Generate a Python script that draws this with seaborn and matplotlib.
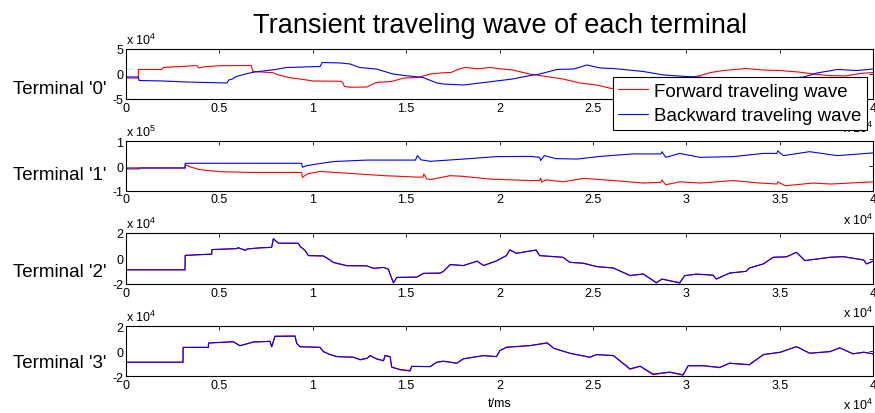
import matplotlib
matplotlib.use("Agg")

import matplotlib.pyplot as plt
import seaborn as sns
from matplotlib.ticker import FuncFormatter

# ==========================================================
# DATA  (time in ms, wave amplitude in raw units)
# ==========================================================

# ---- Terminal '0'
t0_fwd = [0, 660, 660, 1900, 2000, 3600, 3800, 3900, 4200, 5000, 6700, 6800,
          7000, 7900, 8000, 8700, 9500, 10000, 11500, 11600, 11700, 12000,
          12900, 13100, 13400, 14200, 14900, 15600, 16000, 16300, 17000,
          17400, 17900, 18200, 18800, 19500, 20000, 20700, 21600, 22500,
          23400, 24300, 25200, 26000, 27000, 28000, 29000, 30000, 30750,
          31300, 32000, 33200, 34100, 35000, 36000, 36800, 37600, 38500,
          39300, 40000]
v0_fwd = [-8000, -8000, 9000, 9000, 13000, 16500, 16500, 12000, 14500, 16500,
          17000, 5000, 4500, 2500, 0, -7000, -11000, -14000, -14500, -17000,
          -25000, -26500, -26000, -22000, -17000, -15000, -8000, -7000, -3000,
          0, 2500, 3000, 11000, 13000, 10500, 13000, 10500, 8000, 0, -5000,
          -10000, -18000, -22000, -29000, -24000, -20000, -15000, -9000,
          -3000, 3000, 7000, 11000, 8000, 7000, 4000, 0, -3000, -4000, 1000,
          3000]

t0_bwd = [0, 660, 700, 2000, 3250, 5400, 5500, 5700, 5900, 6400, 6800, 8000,
          8600, 10400, 10500, 11500, 12000, 12500, 13400, 14300, 14900, 15900,
          16650, 17000, 18060, 18960, 20700, 21640, 22150, 23070, 23970,
          24680, 25390, 26100, 27700, 28800, 30000, 31500, 33000, 35000,
          36300, 37000, 38100, 39150, 40000]
v0_bwd = [-6000, -6000, -13000, -14000, -16000, -18000, -12000, -10000, -5000,
          0, 3500, 9000, 13000, 15000, 23000, 22000, 20000, 13000, 10000, 0,
          -3000, -7000, -18000, -20000, -22000, -18000, -10000, -3000, 0,
          9000, 10000, 18000, 12000, 11000, 5000, -2000, -5000, -8000, -9000,
          -10000, -6000, 2000, 9000, 7000, 10000]

# ---- Terminal '1'
t1_fwd = [0, 700, 750, 3160, 3170, 3500, 3960, 5040, 6640, 9400, 9450, 9700,
          10400, 12000, 13800, 15570, 15900, 15950, 16100, 16290, 17360,
          18060, 19500, 21640, 22150, 22200, 22260, 22500, 23400, 24500,
          26100, 27700, 28650, 28700, 28900, 29650, 30750, 32500, 33950,
          34850, 34900, 35300, 36800, 37750, 40000]
v1_fwd = [-12000, -12000, -8000, -8000, 5000, -5000, -15000, -23000, -26000,
          -26000, -46000, -32000, -22000, -30000, -39000, -45000, -45000,
          -32000, -52000, -55000, -39000, -42000, -53000, -59000, -59000,
          -49000, -65000, -56000, -64000, -50000, -59000, -69000, -66000,
          -57000, -76000, -64000, -69000, -59000, -69000, -73000, -64000,
          -80000, -69000, -73000, -64000]

t1_bwd = [0, 3160, 3170, 9400, 9450, 9700, 10400, 11100, 12900, 15500, 15600,
          15800, 16290, 18060, 19840, 21640, 22150, 22200, 22400, 23000,
          24150, 25390, 27150, 28650, 28700, 28900, 29650, 30750, 32500,
          34130, 34850, 34900, 35200, 36600, 38100, 40000]
v1_bwd = [-8000, -8000, 11000, 11000, -5000, 2000, 10000, 18000, 24000, 24000,
          42000, 25000, 19000, 28000, 38000, 39000, 35000, 22000, 42000,
          30000, 28000, 39000, 49000, 49000, 58000, 35000, 51000, 35000,
          38000, 51000, 51000, 61000, 42000, 58000, 42000, 53000]

# ---- Terminal '2'
t2 = [0, 3160, 3170, 4590, 4600, 5930, 6000, 6375, 6500, 7180, 7800, 7890,
      8160, 9230, 9320, 9590, 9770, 10570, 10840, 11100, 11820, 12890, 13250,
      13790, 14050, 14140, 14320, 14500, 15570, 15930, 16820, 17000, 17360,
      18060, 18800, 19150, 19840, 20370, 20550, 20900, 21960, 22150, 23400,
      23760, 24500, 25200, 26100, 26990, 27700, 28400, 28700, 29650, 29920,
      30550, 31430, 31610, 32320, 33200, 33380, 34130, 34660, 35370, 35900,
      36350, 37700, 38400, 39500, 39650, 40000]
v2_fwd = [-8800, -8800, 2500, 3500, 7000, 7800, 8500, 6500, 7500, 8300, 8800,
          15400, 12000, 12000, 9600, 6200, 2200, 2000, -400, -3000, -5700,
          -5700, -7800, -7000, -8500, -12200, -18800, -14900, -14500, -11700,
          -11400, -10000, -4800, -5500, -2200, -5600, -1800, 2200, 6700, 4000,
          6700, 2200, 900, -3000, -3800, -6400, -7400, -13500, -12200, -18800,
          -16200, -18800, -13500, -12200, -13000, -16000, -11500, -10000,
          -7500, -4300, 900, 1400, 4800, -1700, 900, 1400, -1200, -4300,
          -2200]
v2_bwd = [-8900, -8900, 2400, 3400, 7000, 7700, 8500, 6400, 7500, 8400, 8700,
          15600, 12000, 11900, 9600, 6300, 2300, 2000, -400, -3100, -5600,
          -5800, -7700, -7000, -8400, -12300, -19200, -14800, -14600, -11600,
          -11500, -10100, -4700, -5600, -2000, -5500, -1900, 2300, 6900, 4100,
          6600, 2300, 1000, -3000, -3700, -6300, -7500, -13300, -12100, -19200,
          -16100, -19300, -13400, -12300, -13100, -16200, -11400, -10100,
          -7400, -4200, 1000, 1300, 4900, -1600, 1000, 1500, -1100, -4200,
          -2100]

# ---- Terminal '3'
t3 = [0, 3050, 3060, 4410, 4420, 5750, 6100, 6820, 7710, 7800, 7980, 9050,
      9140, 9320, 10390, 10570, 10930, 11290, 12180, 12540, 12900, 13070,
      13430, 13790, 13870, 14140, 14230, 14680, 15210, 15300, 16290, 16640,
      17000, 17710, 18060, 19150, 19840, 20020, 20370, 21640, 22550, 22900,
      23760, 24840, 25200, 26100, 26990, 27530, 28220, 29120, 29830, 30100,
      30890, 31790, 32320, 33380, 34130, 35040, 35900, 36610, 37700, 38220,
      38930, 39500, 40000]
v3_fwd = [-8800, -8800, 3200, 3200, 6700, 7700, 4500, 7500, 8000, 3700, 12200,
          12300, 6400, 3700, 3200, -300, -2700, -4300, -4800, -6900, -5700,
          -3500, -6200, -7700, -3500, -4300, -12800, -14800, -15900, -12000,
          -12300, -8800, -8000, -9600, -6100, -3500, -4300, 500, 3200, 4500,
          6900, 2400, -1600, -4900, -2700, -3500, -14400, -12000, -18700,
          -16800, -19200, -11700, -11600, -13100, -9600, -10900, -2700, -800,
          3800, -1600, -300, 2700, -2100, -800, -2100]
v3_bwd = [-8700, -8700, 3100, 3100, 6600, 7600, 4400, 7400, 7900, 3600, 11900,
          12100, 6300, 3600, 3100, -200, -2600, -4200, -4700, -6600, -5600,
          -3400, -6100, -7400, -3400, -4200, -12600, -14600, -15400, -12100,
          -12200, -8700, -7900, -9500, -6000, -3400, -4200, 600, 3300, 4600,
          6600, 2500, -1500, -4700, -2600, -3400, -14000, -11900, -18200,
          -16600, -18700, -11400, -11500, -12800, -9500, -10600, -2600, -700,
          3700, -1500, -200, 2800, -2000, -700, -2000]

terminal_labels = ["Terminal '0'", "Terminal '1'", "Terminal '2'", "Terminal '3'"]
y_limits = [5e4, 1e5, 2e4, 2e4]
y_scales = [1e4, 1e5, 1e4, 1e4]
y_exps = [4, 5, 4, 4]
x_ticks = [0, 5000, 10000, 15000, 20000, 25000, 30000, 35000, 40000]

series = [
    (t0_fwd, v0_fwd, t0_bwd, v0_bwd),
    (t1_fwd, v1_fwd, t1_bwd, v1_bwd),
    (t2, v2_fwd, t2, v2_bwd),
    (t3, v3_fwd, t3, v3_bwd),
]

# ==========================================================
# STYLE
# ==========================================================

sns.set_style("white")

plt.rcParams["font.family"] = ["Liberation Sans", "DejaVu Sans"]
plt.rcParams["mathtext.default"] = "regular"
plt.rcParams["text.color"] = "black"
plt.rcParams["axes.labelcolor"] = "black"
plt.rcParams["xtick.color"] = "black"
plt.rcParams["ytick.color"] = "black"

W, H = 875, 414

fig = plt.figure(figsize=(W / 100, H / 100), dpi=100)

# panel top / bottom in pixels
panel_px = [(50, 100), (142.3, 191.7), (234, 285), (327.3, 377.3)]
label_y = [0.2, 0.32, 0.25, 0.28]

left_px, right_px = 126, 873

axes = []

# ==========================================================
# PANELS
# ==========================================================

for i, (tf, vf, tb, vb) in enumerate(series):

    top, bot = panel_px[i]

    ax = fig.add_axes([
        left_px / W,
        1 - bot / H,
        (right_px - left_px) / W,
        (bot - top) / H
    ])

    sns.lineplot(x=tf, y=vf, color="#ff0000", lw=0.8,
                 estimator=None, sort=False, ax=ax,
                 label="Forward traveling wave")

    sns.lineplot(x=tb, y=vb, color="#0000ff", lw=0.8,
                 estimator=None, sort=False, ax=ax,
                 label="Backward traveling wave")

    if ax.get_legend() is not None:
        ax.get_legend().remove()

    lim = y_limits[i]
    scale = y_scales[i]

    ax.set_xlim(0, 40000)
    ax.set_ylim(-lim, lim)

    ax.set_xticks(x_ticks)
    ax.set_yticks([-lim, 0, lim])

    ax.xaxis.set_major_formatter(FuncFormatter(lambda v, p: f"{v / 1e4:g}"))
    ax.yaxis.set_major_formatter(
        FuncFormatter(lambda v, p, s=scale: f"{v / s:g}")
    )

    ax.tick_params(direction="in", top=True, right=True,
                   length=3, width=0.6, labelsize=9, pad=2,
                   colors="black")

    for sp in ax.spines.values():
        sp.set_linewidth(0.8)
        sp.set_color("black")

    ax.set_xlabel("")
    ax.set_ylabel(terminal_labels[i], rotation=0, ha="right", va="center",
                  fontsize=13.5, color="black")
    ax.yaxis.set_label_coords(-0.026, label_y[i])

    # MATLAB-style exponent labels
    ax.annotate(f"x 10$^{{{y_exps[i]}}}$", xy=(0, 1), xycoords="axes fraction",
                xytext=(0, 3.5), textcoords="offset points",
                ha="left", va="baseline", fontsize=9)

    fig.text(843 / W, 1 - (bot + 33) / H, "x 10$^{4}$",
             ha="left", va="baseline", fontsize=9)

    axes.append(ax)

axes[-1].set_xlabel("t/ms", fontsize=9, labelpad=4)

# ==========================================================
# TITLE & LEGEND
# ==========================================================

fig.text(0.571, 1 - 33 / H, "Transient traveling wave of each terminal",
         ha="center", va="baseline", fontsize=19.5)

handles, labels = axes[0].get_legend_handles_labels()

leg = fig.legend(
    handles, labels,
    loc="upper right",
    bbox_to_anchor=(867 / W, 1 - 78 / H),
    fontsize=13.5,
    frameon=True,
    fancybox=False,
    framealpha=1,
    edgecolor="black",
    borderaxespad=0,
    borderpad=0.3,
    handlelength=1.6,
    handletextpad=0.3,
    labelspacing=0.4
)
leg.get_frame().set_linewidth(0.8)
leg.set_zorder(10)

plt.savefig("out.png", dpi=100)
